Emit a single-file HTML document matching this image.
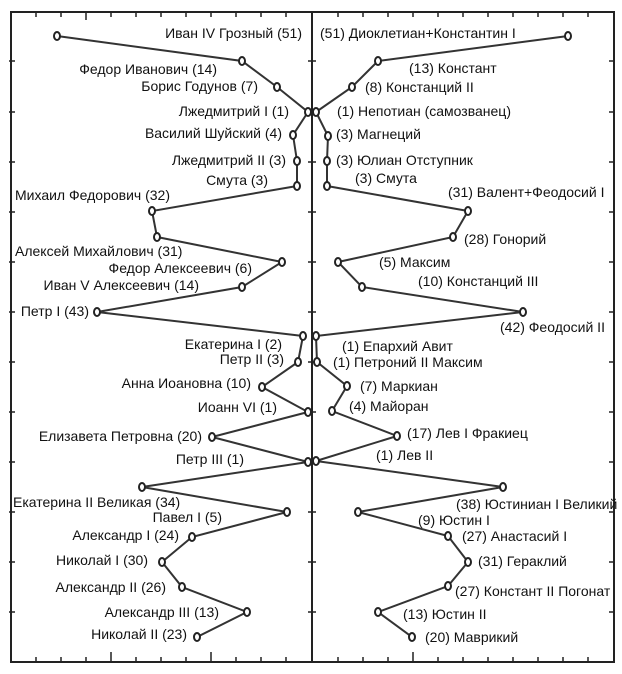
<!DOCTYPE html>
<html><head><meta charset="utf-8"><style>
html,body{margin:0;padding:0;background:#fff;}
svg{display:block;}
text{font-family:"Liberation Sans",Arial,sans-serif;font-size:14px;fill:#111;dominant-baseline:central;}
.l{text-anchor:end;}
.m{fill:#fff;stroke:#222;stroke-width:2;}
.ln{fill:none;stroke:#333;stroke-width:2;}
</style></head><body>
<svg width="622" height="674" viewBox="0 0 622 674" xmlns="http://www.w3.org/2000/svg">
<rect x="11" y="12" width="603" height="650" fill="none" stroke="#222" stroke-width="2"/>
<line x1="312" y1="12" x2="312" y2="662" stroke="#222" stroke-width="2"/>
<g stroke="#222" stroke-width="1.5">
<path d="M36 12v5M61 12v5M86 12v8M111 12v5M136 12v5M161 12v5M186 12v5M211 12v5M236 12v5M261 12v5M286 12v5
M338 12v5M363 12v5M388 12v5M413 12v5M438 12v5M463 12v5M488 12v5M513 12v5M538 12v5M563 12v5M588 12v5
M36 662v-5M61 662v-5M86 662v-5M111 662v-10M136 662v-5M161 662v-5M186 662v-5M211 662v-10M236 662v-5M261 662v-5M286 662v-5
M338 662v-5M363 662v-5M388 662v-5M413 662v-10M438 662v-5M463 662v-5M488 662v-5M513 662v-5M538 662v-5M563 662v-5M588 662v-5
M9 61h6M9 112h6M9 162h6M9 212h6M9 262h6M9 312h6M9 362h6M9 412h6M9 462h6M9 512h6M9 562h6M9 612h6
M308 61h8M308 112h8M308 162h8M308 212h8M308 262h8M308 312h8M308 362h8M308 412h8M308 462h8M308 512h8M308 562h8M308 612h8
M609 61h6M609 112h6M609 162h6M609 212h6M609 262h6M609 312h6M609 362h6M609 412h6M609 462h6M609 512h6M609 562h6M609 612h6"/>
</g>
<polyline class="ln" points="57,36 242,61 277,87 308,112 293,135 297,161 297,186 152,211 157,237 282,262 242,287 97,312 303,336 298,362 262,387 308,412 212,437 308,462 142,487 287,512 192,537 162,562 182,587 247,612 197,637"/>
<polyline class="ln" points="568,36 378,61 352,87 316,112 328,136 327,161 327,186 468,211 453,237 338,262 362,287 523,312 316,336 317,362 347,386 332,411 397,436 316,461 503,487 358,512 448,536 468,562 448,586 378,612 412,637"/>
<g class="m">
<ellipse cx="57" cy="36" rx="3" ry="4"/><ellipse cx="242" cy="61" rx="3" ry="4"/><ellipse cx="277" cy="87" rx="3" ry="4"/><ellipse cx="308" cy="112" rx="3" ry="4"/><ellipse cx="293" cy="135" rx="3" ry="4"/><ellipse cx="297" cy="161" rx="3" ry="4"/><ellipse cx="297" cy="186" rx="3" ry="4"/><ellipse cx="152" cy="211" rx="3" ry="4"/><ellipse cx="157" cy="237" rx="3" ry="4"/><ellipse cx="282" cy="262" rx="3" ry="4"/><ellipse cx="242" cy="287" rx="3" ry="4"/><ellipse cx="97" cy="312" rx="3" ry="4"/><ellipse cx="303" cy="336" rx="3" ry="4"/><ellipse cx="298" cy="362" rx="3" ry="4"/><ellipse cx="262" cy="387" rx="3" ry="4"/><ellipse cx="308" cy="412" rx="3" ry="4"/><ellipse cx="212" cy="437" rx="3" ry="4"/><ellipse cx="308" cy="462" rx="3" ry="4"/><ellipse cx="142" cy="487" rx="3" ry="4"/><ellipse cx="287" cy="512" rx="3" ry="4"/><ellipse cx="192" cy="537" rx="3" ry="4"/><ellipse cx="162" cy="562" rx="3" ry="4"/><ellipse cx="182" cy="587" rx="3" ry="4"/><ellipse cx="247" cy="612" rx="3" ry="4"/><ellipse cx="197" cy="637" rx="3" ry="4"/>
<ellipse cx="568" cy="36" rx="3" ry="4"/><ellipse cx="378" cy="61" rx="3" ry="4"/><ellipse cx="352" cy="87" rx="3" ry="4"/><ellipse cx="316" cy="112" rx="3" ry="4"/><ellipse cx="328" cy="136" rx="3" ry="4"/><ellipse cx="327" cy="161" rx="3" ry="4"/><ellipse cx="327" cy="186" rx="3" ry="4"/><ellipse cx="468" cy="211" rx="3" ry="4"/><ellipse cx="453" cy="237" rx="3" ry="4"/><ellipse cx="338" cy="262" rx="3" ry="4"/><ellipse cx="362" cy="287" rx="3" ry="4"/><ellipse cx="523" cy="312" rx="3" ry="4"/><ellipse cx="316" cy="336" rx="3" ry="4"/><ellipse cx="317" cy="362" rx="3" ry="4"/><ellipse cx="347" cy="386" rx="3" ry="4"/><ellipse cx="332" cy="411" rx="3" ry="4"/><ellipse cx="397" cy="436" rx="3" ry="4"/><ellipse cx="316" cy="461" rx="3" ry="4"/><ellipse cx="503" cy="487" rx="3" ry="4"/><ellipse cx="358" cy="512" rx="3" ry="4"/><ellipse cx="448" cy="536" rx="3" ry="4"/><ellipse cx="468" cy="562" rx="3" ry="4"/><ellipse cx="448" cy="586" rx="3" ry="4"/><ellipse cx="378" cy="612" rx="3" ry="4"/><ellipse cx="412" cy="637" rx="3" ry="4"/>
</g>
<text class="l" x="302" y="33">Иван IV Грозный (51)</text>
<text class="l" x="217" y="69">Федор Иванович (14)</text>
<text class="l" x="258" y="86">Борис Годунов (7)</text>
<text class="l" x="289" y="111">Лжедмитрий I (1)</text>
<text class="l" x="282" y="133">Василий Шуйский (4)</text>
<text class="l" x="286" y="160">Лжедмитрий II (3)</text>
<text class="l" x="268" y="180">Смута (3)</text>
<text x="15" y="195">Михаил Федорович (32)</text>
<text x="15" y="251">Алексей Михайлович (31)</text>
<text class="l" x="252" y="268">Федор Алексеевич (6)</text>
<text class="l" x="199" y="285">Иван V Алексеевич (14)</text>
<text class="l" x="89" y="311">Петр I (43)</text>
<text class="l" x="282" y="344">Екатерина I (2)</text>
<text class="l" x="284" y="359">Петр II (3)</text>
<text class="l" x="251" y="383">Анна Иоановна (10)</text>
<text class="l" x="277" y="407">Иоанн VI  (1)</text>
<text class="l" x="202" y="436">Елизавета Петровна (20)</text>
<text class="l" x="244" y="459">Петр III (1)</text>
<text x="13" y="502">Екатерина II Великая (34)</text>
<text class="l" x="222" y="517">Павел I (5)</text>
<text class="l" x="179" y="535">Александр I (24)</text>
<text class="l" x="148" y="560">Николай I (30)</text>
<text class="l" x="166" y="587">Александр II (26)</text>
<text class="l" x="219" y="612">Александр III (13)</text>
<text class="l" x="187" y="634">Николай II (23)</text>
<text x="320" y="33">(51) Диоклетиан+Константин I</text>
<text x="409" y="68">(13) Констант</text>
<text x="365" y="87">(8) Констанций II</text>
<text x="337" y="111">(1) Непотиан (самозванец)</text>
<text x="336" y="134">(3) Магнеций</text>
<text x="336" y="160">(3) Юлиан Отступник</text>
<text x="355" y="178">(3) Смута</text>
<text x="448" y="192">(31) Валент+Феодосий I</text>
<text x="464" y="239">(28) Гонорий</text>
<text x="379" y="262">(5) Максим</text>
<text x="418" y="281">(10) Констанций III</text>
<text x="500" y="327">(42) Феодосий II</text>
<text x="342" y="346">(1) Епархий Авит</text>
<text x="333" y="362">(1) Петроний II Максим</text>
<text x="360" y="386">(7) Маркиан</text>
<text x="349" y="406">(4) Майоран</text>
<text x="407" y="433">(17) Лев I Фракиец</text>
<text x="376" y="455">(1) Лев II</text>
<text x="456" y="504">(38) Юстиниан I Великий</text>
<text x="418" y="520">(9) Юстин I</text>
<text x="462" y="536">(27) Анастасий I</text>
<text x="478" y="561">(31) Гераклий</text>
<text x="455" y="591">(27) Констант II Погонат</text>
<text x="403" y="614">(13) Юстин II</text>
<text x="425" y="637">(20) Маврикий</text>
</svg>
</body></html>
